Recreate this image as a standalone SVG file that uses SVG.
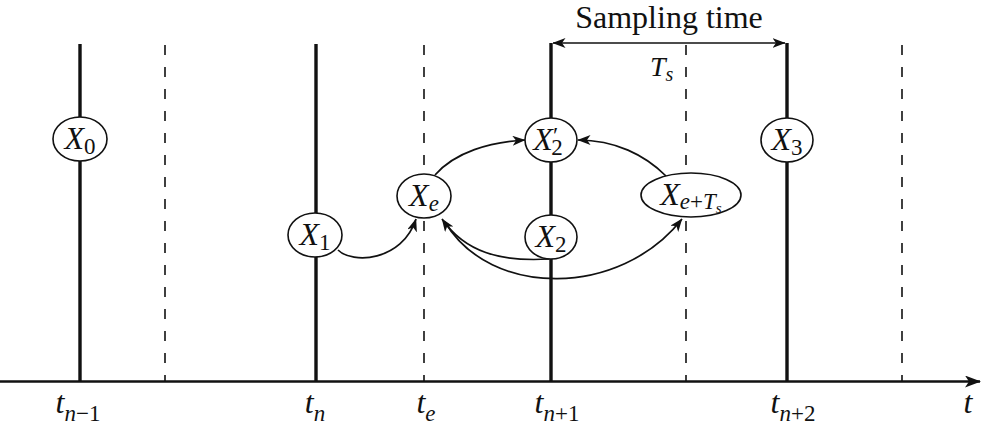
<svg xmlns="http://www.w3.org/2000/svg" width="982" height="431" viewBox="0 0 982 431">
<style>
.solid{stroke:#111;stroke-width:3.4;fill:none}
.dash{stroke:#111;stroke-width:1.6;stroke-dasharray:10,12;fill:none}
.conn{stroke:#111;stroke-width:1.7;fill:none}
.node{fill:#fff;stroke:#111;stroke-width:1.6}
.m{font-family:"Liberation Serif","Times New Roman",serif;font-style:italic;font-size:32px;fill:#111}
.sub{font-style:normal;font-size:23px}
.isub{font-style:italic;font-size:23px}
.r{font-family:"Liberation Serif","Times New Roman",serif;font-size:32px;fill:#111}
</style>
<defs>
<marker id="ah" viewBox="0 0 13 10" refX="12.5" refY="5" markerWidth="13" markerHeight="10" markerUnits="userSpaceOnUse" orient="auto-start-reverse">
<path d="M0,0 L13,5 L0,10 L3.5,5 Z" fill="#111"/>
</marker>
<marker id="axh" viewBox="0 0 16 12" refX="15" refY="6" markerWidth="16" markerHeight="12" markerUnits="userSpaceOnUse" orient="auto">
<path d="M0,0 L16,6 L0,12 L4,6 Z" fill="#111"/>
</marker>
</defs>
<rect width="982" height="431" fill="#fff"/>
<g id="timeline">
<line class="solid" x1="80" y1="44" x2="80" y2="381"/>
<line class="solid" x1="316" y1="44" x2="316" y2="381"/>
<line class="solid" x1="551" y1="43" x2="551" y2="381"/>
<line class="solid" x1="787" y1="43" x2="787" y2="381"/>
<line class="dash" x1="165" y1="45" x2="165" y2="381"/>
<line class="dash" x1="424" y1="45" x2="424" y2="381"/>
<line class="dash" x1="686" y1="45" x2="686" y2="381"/>
<line class="dash" x1="902" y1="45" x2="902" y2="381"/>
<line x1="0" y1="381.5" x2="980" y2="381.5" stroke="#111" stroke-width="2.6" marker-end="url(#axh)"/>
</g>
<g id="axis-labels" class="m">
<text x="78" y="413" text-anchor="middle">t<tspan class="isub" dy="8">n</tspan><tspan class="sub">−1</tspan></text>
<text x="315" y="413" text-anchor="middle">t<tspan class="isub" dy="8">n</tspan></text>
<text x="426" y="413" text-anchor="middle">t<tspan class="isub" dy="8">e</tspan></text>
<text x="557" y="413" text-anchor="middle">t<tspan class="isub" dy="8">n</tspan><tspan class="sub">+1</tspan></text>
<text x="793" y="413" text-anchor="middle">t<tspan class="isub" dy="8">n</tspan><tspan class="sub">+2</tspan></text>
<text x="968" y="413" text-anchor="middle">t</text>
</g>
<g id="sampling">
<line class="conn" x1="553" y1="43" x2="785" y2="43" marker-start="url(#ah)" marker-end="url(#ah)"/>
<text class="r" x="669" y="28" text-anchor="middle">Sampling time</text>
<text class="m" x="650" y="76" style="font-size:28px">T<tspan dy="5" style="font-size:20px">s</tspan></text>
</g>
<g id="connectors">
<path class="conn" d="M338,250 C352,264 402,262 416,219" marker-end="url(#ah)"/>
<path class="conn" d="M435,175 C455,152 490,142 525,140" marker-end="url(#ah)"/>
<path class="conn" d="M666,176 C645,155 615,140 578,140" marker-end="url(#ah)"/>
<path class="conn" d="M549,259 C500,262 465,252 442,219" marker-end="url(#ah)"/>
<path class="conn" d="M445,222 C490,298 620,298 682,219" marker-end="url(#ah)"/>
</g>
<g id="node-X0">
<ellipse class="node" cx="80" cy="139" rx="27" ry="22"/>
<text class="m" x="80" y="149" text-anchor="middle">X<tspan class="sub" dy="5">0</tspan></text>
</g>
<g id="node-X1">
<ellipse class="node" cx="315" cy="235" rx="27" ry="22"/>
<text class="m" x="315" y="245" text-anchor="middle">X<tspan class="sub" dy="5">1</tspan></text>
</g>
<g id="node-Xe">
<ellipse class="node" cx="424" cy="196" rx="27" ry="22"/>
<text class="m" x="424" y="206" text-anchor="middle">X<tspan class="isub" dy="5">e</tspan></text>
</g>
<g id="node-X2p">
<ellipse class="node" cx="551" cy="140" rx="26" ry="22"/>
<text class="m" x="548" y="150" text-anchor="middle">X<tspan style="font-style:normal;font-size:24px" dy="-7">′</tspan><tspan class="sub" dx="-7" dy="12">2</tspan></text>
</g>
<g id="node-X2">
<ellipse class="node" cx="551" cy="237" rx="26" ry="22"/>
<text class="m" x="551" y="247" text-anchor="middle">X<tspan class="sub" dy="5">2</tspan></text>
</g>
<g id="node-XeTs">
<ellipse class="node" cx="691" cy="195" rx="50" ry="22"/>
<text class="m" x="691" y="205" text-anchor="middle">X<tspan class="isub" dy="4">e</tspan><tspan class="sub">+</tspan><tspan class="isub">T</tspan><tspan class="isub" dy="4" style="font-size:15px">s</tspan></text>
</g>
<g id="node-X3">
<ellipse class="node" cx="787" cy="140" rx="26" ry="22"/>
<text class="m" x="787" y="150" text-anchor="middle">X<tspan class="sub" dy="5">3</tspan></text>
</g>
</svg>
